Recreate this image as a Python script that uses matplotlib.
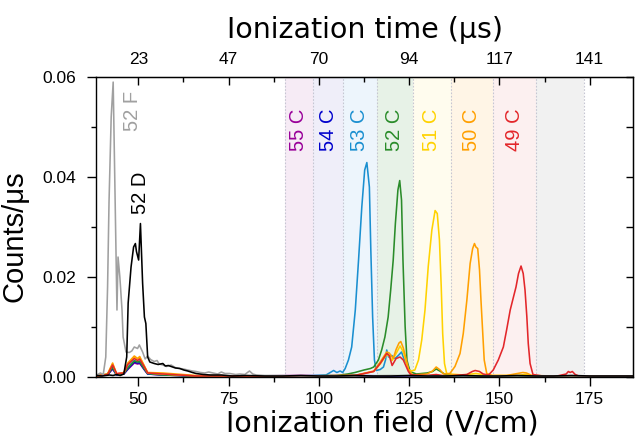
#!/usr/bin/env python3
"""Ionization field spectra of 52 D/F and 49-55 C states."""

import matplotlib
matplotlib.use("Agg")
import matplotlib.pyplot as plt
from matplotlib.ticker import MultipleLocator, FormatStrFormatter

# ---- data ----
field_52f = [38.5, 39.5, 40.3, 41.0, 41.5, 41.9, 42.5, 43.05, 43.6, 44.1, 44.4, 44.9, 45.5, 45.8,
             46.6, 47.5, 48.2, 48.9, 49.8, 50.3, 51.2, 51.9, 52.6, 53.4, 54.4, 55.2, 55.8, 56.8,
             57.8, 59.1, 60.2, 61.5, 62.5, 63.7, 65, 66, 67.2, 68.4, 69.5, 70.7, 72, 73, 74, 75.3,
             77, 78.1, 79.5, 80.8, 81.7, 82.7, 85, 90, 95, 100, 110, 120, 130, 140, 150, 160,
             170, 180, 187]
counts_52f = [0.0004, 0.0008, 0.0005, 0.004, 0.018, 0.035, 0.052, 0.059, 0.035, 0.0134, 0.024,
              0.020, 0.0134, 0.008, 0.005, 0.0049, 0.0052, 0.006, 0.0057, 0.0064, 0.005, 0.0036,
              0.0042, 0.0035, 0.0031, 0.0033, 0.0026, 0.0024, 0.0021, 0.0024, 0.0019, 0.0017,
              0.0016, 0.0014, 0.0012, 0.0011, 0.0009, 0.0008, 0.001, 0.0008, 0.0006, 0.001,
              0.0007, 0.0007, 0.0005, 0.0006, 0.0005, 0.0012, 0.0006, 0.0004, 0.0003, 0.0003,
              0.0002, 0.0002, 0.0002, 0.0003, 0.0002, 0.0002, 0.0002, 0.0002, 0.0002, 0.0002,
              0.0002]

field_52d = [38.5, 40, 42, 43, 44, 45, 46.0, 46.8, 47.2, 48.0, 48.7, 49.2, 49.5, 50.1, 50.6,
             51.2, 51.7, 52.1, 52.6, 53.2, 54.4, 55.5, 56.8, 57.5, 58.3, 59.1, 60.3, 61.5, 62.6,
             63.7, 65, 66, 68, 70, 73, 76, 80, 85, 90, 95, 100, 105, 110, 115, 120, 125, 130,
             135, 140, 145, 150, 155, 160, 165, 170, 175, 180, 187]
counts_52d = [0.0003, 0.0002, 0.0004, 0.0003, 0.0005, 0.0003, 0.0006, 0.004, 0.0148, 0.022,
              0.026, 0.0267, 0.0251, 0.0234, 0.0307, 0.0188, 0.012, 0.0107, 0.004, 0.003,
              0.0027, 0.0025, 0.0027, 0.0022, 0.0023, 0.0021, 0.0018, 0.0017, 0.0014, 0.0012,
              0.0009, 0.0007, 0.0005, 0.0004, 0.0004, 0.0002, 0.0003, 0.0002, 0.0002, 0.0003,
              0.0002, 0.0002, 0.0003, 0.0002, 0.0002, 0.0003, 0.0002, 0.0002, 0.0003, 0.0002,
              0.0002, 0.0003, 0.0002, 0.0002, 0.0003, 0.0002, 0.0002, 0.0002]

field_55c = [38.5, 41.5, 42.9, 44.0, 46, 47.1, 48.9, 49.8, 50.4, 51.7, 52.6, 56.8, 66, 80, 95,
             110, 120, 130, 140, 150, 160, 170, 187]
counts_55c = [0.0002, 0.0004, 0.0016, 0.0004, 0.0006, 0.0015, 0.0028, 0.0026, 0.0027, 0.0014,
              0.0006, 0.0004, 0.0002, 0.0002, 0.0003, 0.0002, 0.0002, 0.0002, 0.0001, 0.0002,
              0.0001, 0.0002, 0.0001]

field_54c = [38.5, 41.5, 42.9, 44.0, 46, 47.1, 48.9, 49.8, 50.4, 51.7, 52.6, 56.8, 66, 80, 95,
             110, 120, 130, 140, 150, 160, 170, 187]
counts_54c = [0.0002, 0.0005, 0.0017, 0.0004, 0.0006, 0.0016, 0.003, 0.0028, 0.0029, 0.0015,
              0.0006, 0.0004, 0.0002, 0.0002, 0.0002, 0.0003, 0.0002, 0.0002, 0.0002, 0.0001,
              0.0002, 0.0001, 0.0002]

field_53c = [38.5, 41.5, 42.9, 44.0, 46, 47.1, 48.9, 49.8, 50.4, 51.7, 52.6, 56.8, 66, 80, 95,
             102, 104.1, 105.0, 105.9, 106.6, 107.3, 108.2, 109.1, 110.1, 111.0, 111.9, 112.7,
             113.3, 114.0, 114.4, 114.9, 115.4, 115.9, 117.0, 117.9, 118.5, 118.8, 119.3, 120.2,
             121.1, 122.0, 122.9, 123.5, 124.8, 125.7, 128, 132.5, 135, 140, 145, 150, 160,
             170, 180, 187]
counts_53c = [0.0002, 0.0006, 0.002, 0.0005, 0.0008, 0.002, 0.0033, 0.003, 0.0032, 0.0017,
              0.0007, 0.0005, 0.0002, 0.0002, 0.0002, 0.0004, 0.0013, 0.0009, 0.0012, 0.0009,
              0.0017, 0.0034, 0.006, 0.0134, 0.0234, 0.034, 0.0414, 0.0429, 0.038, 0.0254,
              0.012, 0.0034, 0.0013, 0.0015, 0.002, 0.0035, 0.0054, 0.004, 0.0043, 0.0037,
              0.0043, 0.005, 0.0038, 0.0021, 0.0004, 0.0003, 0.0003, 0.0002, 0.0001, 0.0002,
              0.0001, 0.0002, 0.0001, 0.0002, 0.0001]

field_52c = [38.5, 41.5, 42.9, 44.0, 46, 47.1, 48.9, 49.8, 50.4, 51.7, 52.6, 56.8, 66, 80, 95,
             105, 108, 110, 112.5, 114.3, 115.2, 116.5, 117.4, 118.3, 119.2, 119.9, 120.6,
             121.2, 121.9, 122.4, 122.9, 123.3, 123.9, 124.4, 125.2, 127, 130, 131.5, 132.5,
             133.5, 135, 140, 150, 160, 170, 187]
counts_52c = [0.0002, 0.0005, 0.0019, 0.0005, 0.0007, 0.0018, 0.0032, 0.003, 0.0031, 0.0016,
              0.0007, 0.0004, 0.0002, 0.0002, 0.0002, 0.0003, 0.0006, 0.0009, 0.0014, 0.0017,
              0.002, 0.0034, 0.0054, 0.008, 0.012, 0.0174, 0.0234, 0.0307, 0.0374, 0.0393,
              0.0354, 0.0234, 0.0101, 0.0034, 0.0011, 0.0006, 0.0008, 0.0011, 0.0016, 0.0012,
              0.0005, 0.0003, 0.0002, 0.0002, 0.0002, 0.0002]

field_51c = [38.5, 41.5, 42.9, 44.0, 46, 47.1, 48.9, 49.8, 50.4, 51.7, 52.6, 56.8, 66, 80, 95,
             110, 115.2, 117.0, 118.8, 119.5, 120.3, 121.4, 122.5, 123.4, 124.8, 125.7, 126.6,
             127.6, 128.5, 129.4, 130.3, 131.3, 132.2, 132.8, 133.4, 133.9, 134.3, 134.8,
             135.4, 136.3, 140, 143.5, 147, 155, 157, 160, 170, 187]
counts_51c = [0.0002, 0.0006, 0.0026, 0.0006, 0.0008, 0.0026, 0.004, 0.0036, 0.0039, 0.0021,
              0.0008, 0.0006, 0.0002, 0.0002, 0.0002, 0.0003, 0.0011, 0.0026, 0.0045, 0.0042,
              0.0033, 0.0047, 0.0062, 0.005, 0.0015, 0.0012, 0.0014, 0.0034, 0.0074, 0.0134,
              0.0221, 0.0294, 0.0333, 0.0327, 0.0274, 0.018, 0.0087, 0.0027, 0.0007, 0.0006,
              0.0004, 0.0007, 0.0003, 0.0003, 0.0005, 0.0002, 0.0002, 0.0002]

field_50c = [38.5, 41.5, 42.9, 44.0, 46, 47.1, 48.9, 49.8, 50.4, 51.7, 52.6, 56.8, 66, 80, 95,
             110, 115.2, 117.0, 118.8, 119.5, 120.6, 121.4, 122.2, 122.7, 123.4, 124.2, 124.9,
             126, 130, 131.5, 132.5, 133.6, 134.5, 136.3, 137.7, 139.1, 140.0, 141.0, 141.9,
             142.6, 143.1, 143.5, 144.0, 144.5, 144.9, 145.4, 145.8, 146.5, 148, 152, 155,
             156.5, 157.5, 159, 165, 187]
counts_50c = [0.0002, 0.0006, 0.0028, 0.0006, 0.0009, 0.0028, 0.0042, 0.0037, 0.0041, 0.0022,
              0.0009, 0.0008, 0.0003, 0.0002, 0.0002, 0.0003, 0.0012, 0.003, 0.005, 0.0048,
              0.0037, 0.0055, 0.0068, 0.0071, 0.0058, 0.0035, 0.0014, 0.0004, 0.0006, 0.0012,
              0.002, 0.0014, 0.0006, 0.0007, 0.0021, 0.0047, 0.0087, 0.0154, 0.0227, 0.0257,
              0.0267, 0.026, 0.0257, 0.0214, 0.0154, 0.0087, 0.0034, 0.0007, 0.0003, 0.0003,
              0.0007, 0.0009, 0.0008, 0.0003, 0.0002, 0.0002]

field_49c = [38.5, 41.5, 42.9, 44.0, 46, 47.1, 48.9, 49.8, 50.4, 51.7, 52.6, 56.8, 66, 80, 95,
             110, 115.2, 117.0, 118.8, 119.5, 120.3, 121.4, 122.5, 123.4, 124.8, 125.5, 130,
             132.5, 135, 141, 142.5, 143.3, 144.5, 145.5, 147.0, 148.3, 149.7, 151.1, 152.0,
             153.0, 153.9, 154.6, 155.3, 156.0, 156.6, 157.1, 157.6, 158.0, 158.5, 159.3, 162,
             166, 168.5, 169.1, 169.6, 170.2, 171, 172, 187]
counts_49c = [0.0002, 0.0005, 0.0024, 0.0007, 0.0008, 0.0025, 0.0037, 0.0033, 0.0036, 0.002,
              0.0008, 0.0006, 0.0002, 0.0002, 0.0002, 0.0003, 0.0011, 0.0027, 0.0047, 0.0043,
              0.0023, 0.0037, 0.004, 0.0034, 0.0011, 0.0004, 0.0003, 0.0005, 0.0002, 0.0005,
              0.0011, 0.0013, 0.0011, 0.0006, 0.0004, 0.0014, 0.0034, 0.006, 0.0094, 0.0134,
              0.016, 0.018, 0.0207, 0.0222, 0.0207, 0.0174, 0.0121, 0.0067, 0.0027, 0.0005,
              0.0002, 0.0002, 0.0006, 0.0011, 0.0009, 0.0011, 0.0005, 0.0002, 0.0002]

# state bands (ionization field windows)
band_edges = [90.6, 98.3, 106.8, 116.0, 126.0, 136.6, 148.1, 160.2, 173.5]
band_labels = ["55 C", "54 C", "53 C", "52 C", "51 C", "50 C", "49 C", ""]
band_fill = ["#f6ebf5", "#efeef9", "#edf5fc", "#e7f2e7", "#fffcee", "#fff5e6", "#fcf0f0", "#f1f1f1"]
state_colors = ["#990099", "#0000cc", "#1a8fd0", "#2a8c2a", "#ffd200", "#ffa000", "#e3262a"]

# top axis: ionization time at the bottom major tick positions
time_ticks = [50, 75, 100, 125, 150, 175]
time_labels = ["23", "47", "70", "94", "117", "141"]

TICK_FONT = ["Liberation Sans", "DejaVu Sans"]
LABEL_FONT = ["Liberation Sans", "DejaVu Sans"]

fig = plt.figure(figsize=(6.41, 4.43), dpi=100)
ax = fig.add_axes([0.1498, 0.149, 0.8377, 0.677])

# shaded bands with dotted edges
for i, fc in enumerate(band_fill):
    ax.axvspan(band_edges[i], band_edges[i + 1], color=fc, lw=0, zorder=0)
for e in band_edges:
    ax.axvline(e, color="#c6c6d2", lw=0.8, ls=(0, (1.5, 1.5)), zorder=0.5)

# spectra
colored = [(field_55c, counts_55c), (field_54c, counts_54c), (field_53c, counts_53c),
           (field_52c, counts_52c), (field_51c, counts_51c), (field_50c, counts_50c),
           (field_49c, counts_49c)]
for (fx, fy), c in zip(colored, state_colors):
    ax.plot(fx, fy, color=c, lw=1.15)
ax.plot(field_52f, counts_52f, color="#a0a0a0", lw=1.15)
ax.plot(field_52d, counts_52d, color="black", lw=1.15)

# band labels
for i, lab in enumerate(band_labels):
    if lab:
        xc = 0.5 * (band_edges[i] + band_edges[i + 1])
        ax.text(xc, 0.0537, lab, rotation=90, ha="center", va="top", fontsize=14.5,
                color=state_colors[i], family=LABEL_FONT)
ax.text(48.3, 0.0573, "52 F", rotation=90, ha="center", va="top", fontsize=14.5,
        color="#a0a0a0", family=LABEL_FONT)
ax.text(50.5, 0.0410, "52 D", rotation=90, ha="center", va="top", fontsize=14.5,
        color="black", family=LABEL_FONT)

ax.set_xlim(38.3, 187)
ax.set_ylim(0, 0.06)
ax.xaxis.set_major_locator(MultipleLocator(25))
ax.xaxis.set_minor_locator(MultipleLocator(12.5))
ax.yaxis.set_major_locator(MultipleLocator(0.02))
ax.yaxis.set_minor_locator(MultipleLocator(0.01))
ax.yaxis.set_major_formatter(FormatStrFormatter("%.2f"))
ax.tick_params(which="major", direction="out", length=6.5, width=1, pad=4)
ax.tick_params(which="minor", direction="out", length=3.5, width=1)
ax.tick_params(axis="y", which="major", pad=8)
for lab in ax.get_xticklabels() + ax.get_yticklabels():
    lab.set_family(TICK_FONT)
    lab.set_fontsize(12.5)
for sp in ax.spines.values():
    sp.set_linewidth(1.0)

# right side: inward ticks every 0.01, no labels
rax = ax.secondary_yaxis("right")
rax.yaxis.set_major_locator(MultipleLocator(0.01))
rax.tick_params(direction="in", length=5, width=1, labelright=False)

# top: ionization time
tax = ax.secondary_xaxis("top")
tax.set_xticks(time_ticks, labels=time_labels)
tax.xaxis.set_minor_locator(MultipleLocator(12.5))
tax.tick_params(which="major", direction="in", length=6, width=1, pad=7)
tax.tick_params(which="minor", direction="in", length=3.5, width=1)
for lab in tax.get_xticklabels():
    lab.set_family(TICK_FONT)
    lab.set_fontsize(12.5)
tax.set_xlabel("Ionization time (μs)", fontsize=20.5, family="DejaVu Sans", labelpad=10)

ax.set_xlabel("Ionization field (V/cm)", fontsize=20.5, family="DejaVu Sans")
ax.xaxis.set_label_coords(0.533, -0.11)
ax.set_ylabel("Counts/μs", fontsize=21, family=LABEL_FONT)
ax.yaxis.set_label_coords(-0.125, 0.47)

fig.savefig("out.png", dpi=100)
